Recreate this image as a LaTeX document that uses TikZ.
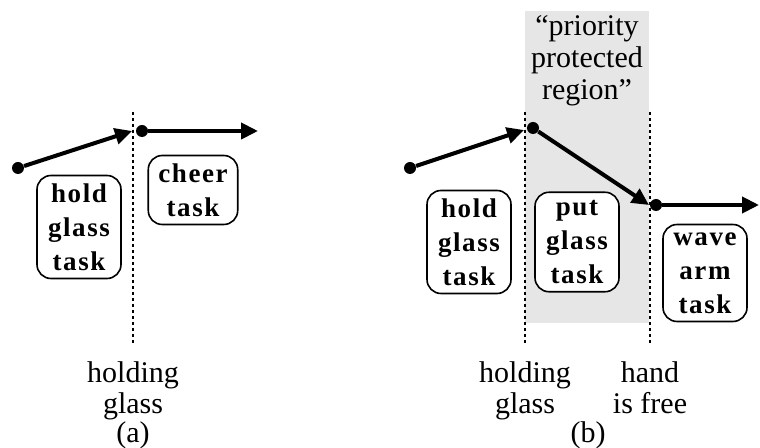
\documentclass[tikz,border=0pt]{standalone}
\usepackage{fontspec}
\setmainfont{Liberation Serif}
\newfontfamily\taskfont{Liberation Serif}[LetterSpace=6]
\usepackage{tikz}
\usetikzlibrary{arrows.meta,positioning}
\definecolor{regiongray}{RGB}{230,230,230}

\begin{document}
\begin{tikzpicture}[x=0.5pt,y=-0.5pt,font=\fontsize{15}{16}\selectfont,
    taskbox/.style={draw,thick,rounded corners=7pt,fill=white,align=center,
      minimum width=42pt,inner xsep=5pt,inner ysep=4pt,
      font=\taskfont\bfseries\fontsize{13.5}{17}\selectfont},
    dot/.style={circle,fill=black,inner sep=0pt,minimum size=6pt},
    flow/.style={-{Triangle[length=8.5pt,width=8pt]},line width=2pt},
    sep/.style={line width=0.8pt,dash pattern=on 1.5pt off 1.5pt},
    label/.style={align=center,anchor=north,inner sep=0pt,
      font=\fontsize{15}{15.5}\selectfont}]
    \useasboundingbox (0,0) rectangle (760,448);
    % (a)
    \node[dot] (a0) at (18,168) {};
    \coordinate (a1) at (132,131);
    \node[dot] (a2) at (142,131) {};
    \coordinate (a3) at (258,131);
    \coordinate (sepAtop) at (133,112);
    \coordinate (sepAbot) at (133,346);
    \draw[sep] (sepAtop) -- (sepAbot);
    \node[taskbox] (holdA) at (79,227) {hold\\glass\\task};
    \node[taskbox] (cheer) at (193,190) {cheer\\task};
    \draw[flow] (a0) -- (a1);
    \draw[flow] (a2) -- (a3);
    \node[label] (holdingA) at (133,361) {holding\\glass};
    \node (capA) at (133,435) {(a)};
    % (b)
    \fill[regiongray] (525,11) rectangle (649,323);
    \node[align=center] (region) at (587,61) {``priority\\protected\\region''};
    \coordinate (sepBtop) at (525,112);
    \coordinate (sepBbot) at (525,346);
    \coordinate (sepCtop) at (650,112);
    \coordinate (sepCbot) at (650,346);
    \draw[sep] (sepBtop) -- (sepBbot);
    \draw[sep] (sepCtop) -- (sepCbot);
    \node[taskbox] (holdB) at (469,242) {hold\\glass\\task};
    \node[taskbox] (put) at (577,242) {put\\glass\\task};
    \node[taskbox] (wave) at (705,273) {wave\\arm\\task};
    \node[dot] (b0) at (410,168) {};
    \coordinate (b1) at (524,130);
    \node[dot] (b2) at (533,128) {};
    \coordinate (b3) at (649,205);
    \node[dot] (b4) at (656,205) {};
    \coordinate (b5) at (759,205);
    \draw[flow] (b0) -- (b1);
    \draw[flow] (b2) -- (b3);
    \draw[flow] (b4) -- (b5);
    \node[label] (holdingB) at (525,361) {holding\\glass};
    \node[label] (free) at (650,361) {hand\\is free};
    \node (capB) at (588,435) {(b)};
\end{tikzpicture}
\end{document}
